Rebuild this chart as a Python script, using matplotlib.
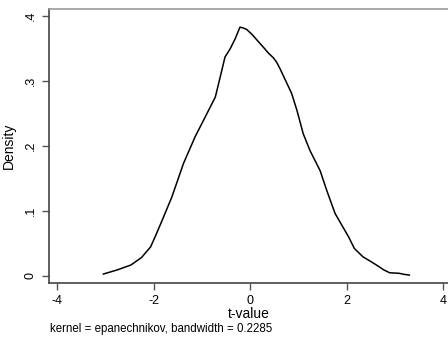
import matplotlib
matplotlib.use('Agg')
import matplotlib.pyplot as plt

# density estimate
t_vals = [-3.04, -2.75, -2.47, -2.25, -2.06, -1.95, -1.82, -1.62, -1.38, -1.14,
          -0.93, -0.72, -0.62, -0.52, -0.41, -0.31, -0.21, -0.15, -0.07, 0.05,
          0.21, 0.30, 0.38, 0.48, 0.55, 0.62, 0.74, 0.86, 0.97, 1.10,
          1.24, 1.45, 1.59, 1.76, 1.92, 2.04, 2.16, 2.34, 2.50, 2.65,
          2.77, 2.89, 3.09, 3.20, 3.30]
density = [0.0026, 0.009, 0.0165, 0.028, 0.0446, 0.063, 0.0857, 0.1215, 0.173, 0.214,
           0.2446, 0.2754, 0.306, 0.337, 0.35, 0.365, 0.383, 0.382, 0.3795, 0.371,
           0.3575, 0.35, 0.343, 0.336, 0.329, 0.319, 0.30, 0.281, 0.255, 0.219,
           0.193, 0.162, 0.131, 0.096, 0.0754, 0.06, 0.042, 0.029, 0.022, 0.0149,
           0.009, 0.0046, 0.0037, 0.002, 0.001]
xticks = [-4, -2, 0, 2, 4]
yticks = [0, 0.1, 0.2, 0.3, 0.4]
ytick_labels = ['0', '.1', '.2', '.3', '.4']

plt.rcParams['font.family'] = ['Liberation Sans', 'DejaVu Sans']

fig = plt.figure(figsize=(4.48, 3.41), dpi=100)
ax = fig.add_axes([49/448, 58/341, 399/448, 274/341])
ax.plot(t_vals, density, color='black', linewidth=1.1)

ax.set_xlim(-4.166, 4.10)
ax.set_ylim(-0.0112, 0.411)
ax.set_xticks(xticks)
ax.set_xticklabels([str(v) for v in xticks])
ax.set_yticks(yticks)
ax.set_yticklabels(ytick_labels, rotation=90, va='center')
ax.tick_params(direction='out', length=5, width=1, color='#555555', labelsize=9, pad=4)

for s in ['left', 'bottom']:
    ax.spines[s].set_color('#444444')
    ax.spines[s].set_linewidth(1.2)
ax.spines['right'].set_visible(False)
ax.spines['top'].set_color('#999999')
ax.spines['top'].set_linewidth(1.2)

ax.set_xlabel('t-value', fontsize=10, labelpad=0)
ax.set_ylabel('Density', fontsize=10, labelpad=6)
fig.text(50/448, 1 - 329/341, 'kernel = epanechnikov, bandwidth = 0.2285',
         fontsize=8.3, va='center', ha='left')

fig.savefig('out.png', dpi=100)
